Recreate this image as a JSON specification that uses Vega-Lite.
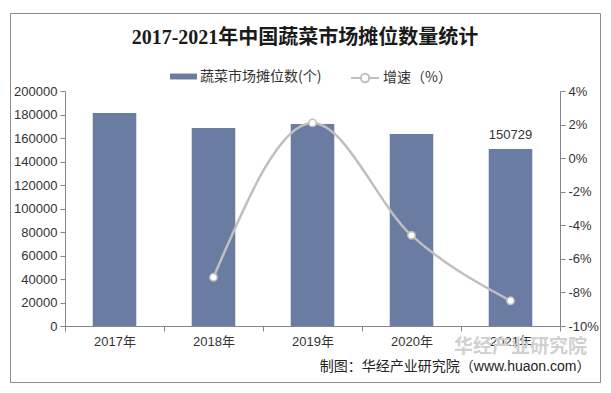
{
  "$schema": "https://vega.github.io/schema/vega-lite/v6.json",
  "width": 590,
  "height": 369,
  "autosize": "none",
  "padding": {"left": 10, "top": 13, "right": 11, "bottom": 11},
  "background": "white",
  "config": {
    "view": {"stroke": "#8C8C8C", "strokeWidth": 1},
    "font": "Liberation Sans, Noto Sans CJK SC",
    "legend": {"orient": "none", "padding": 0, "labelFontSize": 14, "labelColor": "#333333", "labelFont": "Noto Sans CJK SC", "labelOffset": 3, "title": null}
  },
  "title": {
    "text": "2017-2021年中国蔬菜市场摊位数量统计",
    "font": "Liberation Serif, Noto Sans CJK SC",
    "fontSize": 20,
    "fontWeight": "bold",
    "color": "#1a1a1a",
    "anchor": "middle",
    "frame": "group",
    "offset": -35
  },
  "data": {
    "values": [
      {"year": "2017年", "count": 181300, "growth": null},
      {"year": "2018年", "count": 168500, "growth": -7.1},
      {"year": "2019年", "count": 172000, "growth": 2.1},
      {"year": "2020年", "count": 163400, "growth": -4.6},
      {"year": "2021年", "count": 150729, "growth": -8.5}
    ]
  },
  "encoding": {
    "x": {
      "field": "year",
      "type": "nominal",
      "sort": null,
      "scale": {"range": [55, 550], "paddingInner": 0, "paddingOuter": 0},
      "axis": {
        "orient": "bottom",
        "offset": -56,
        "labelAngle": 0,
        "tickBand": "extent",
        "tickSize": 5,
        "tickColor": "#868686",
        "domainColor": "#868686",
        "labelFontSize": 13,
        "labelColor": "#333333",
        "labelPadding": 4,
        "title": "制图：华经产业研究院（www.huaon.com）",
        "titleFont": "Liberation Sans, Noto Sans CJK SC",
        "titleFontSize": 14,
        "titleFontWeight": "normal",
        "titleColor": "#222222",
        "titleAlign": "right",
        "titleBaseline": "middle",
        "titleAnchor": null,
        "titleX": 580,
        "titleY": 40
      }
    }
  },
  "layer": [
    {
      "encoding": {
        "y": {
          "field": "count",
          "type": "quantitative",
          "scale": {"domain": [0, 200000], "nice": false, "zero": true, "range": [313, 78]},
          "axis": {
            "orient": "left",
            "offset": -55,
            "values": [0, 20000, 40000, 60000, 80000, 100000, 120000, 140000, 160000, 180000, 200000],
            "format": "d",
            "grid": false,
            "domainColor": "#868686",
            "tickColor": "#868686",
            "tickSize": 5,
            "labelFontSize": 13,
            "labelColor": "#333333",
            "labelPadding": 3,
            "title": null
          }
        }
      },
      "layer": [
        {
          "mark": {"type": "bar", "width": {"band": 0.44}},
          "encoding": {
            "fill": {
              "datum": "蔬菜市场摊位数(个)",
              "scale": {"range": ["#6A7CA2"]},
              "legend": {
                "legendX": 160,
                "legendY": 50,
                "symbolType": "M-1,-0.22H1V0.22H-1Z",
                "symbolSize": 729,
                "symbolStrokeWidth": 0
              }
            }
          }
        },
        {
          "transform": [{"filter": "datum.year == '2021年'"}],
          "mark": {"type": "text", "dy": -14, "fontSize": 13, "color": "#333333"},
          "encoding": {"text": {"field": "count", "type": "quantitative", "format": "d"}}
        }
      ]
    },
    {
      "transform": [{"filter": "datum.growth != null"}],
      "encoding": {
        "y": {
          "field": "growth",
          "type": "quantitative",
          "scale": {"domain": [-10, 4], "nice": false, "zero": false, "range": [313, 78]},
          "axis": {
            "orient": "right",
            "offset": -40,
            "values": [-10, -8, -6, -4, -2, 0, 2, 4],
            "labelExpr": "datum.value + '%'",
            "grid": false,
            "domainColor": "#868686",
            "tickColor": "#868686",
            "tickSize": 5,
            "labelFontSize": 13,
            "labelColor": "#333333",
            "labelPadding": 3,
            "title": "华经产业研究院",
            "titleAngle": 0,
            "titleX": -40,
            "titleY": 333,
            "titleAlign": "center",
            "titleBaseline": "middle",
            "titleFont": "Noto Sans CJK SC",
            "titleFontSize": 19,
            "titleFontWeight": "bold",
            "titleColor": "#D0D0D0"
          }
        }
      },
      "layer": [
        {
          "mark": {"type": "line", "interpolate": "monotone", "strokeWidth": 2.5},
          "encoding": {
            "stroke": {
              "datum": "增速（%）",
              "scale": {"range": ["#BFBFBF"]},
              "legend": {
                "legendX": 340,
                "legendY": 50,
                "symbolType": "M-1,0H-0.3M0.3,0H1M-0.3,0A0.3,0.3,0,1,1,0.3,0A0.3,0.3,0,1,1,-0.3,0",
                "symbolSize": 784,
                "symbolStrokeWidth": 2,
                "symbolFillColor": "white"
              }
            }
          }
        },
        {
          "mark": {"type": "point", "filled": true, "fill": "white", "stroke": "#BFBFBF", "strokeWidth": 1.5, "size": 55, "opacity": 1},
          "encoding": {}
        }
      ]
    }
  ],
  "resolve": {"scale": {"y": "independent"}}
}
